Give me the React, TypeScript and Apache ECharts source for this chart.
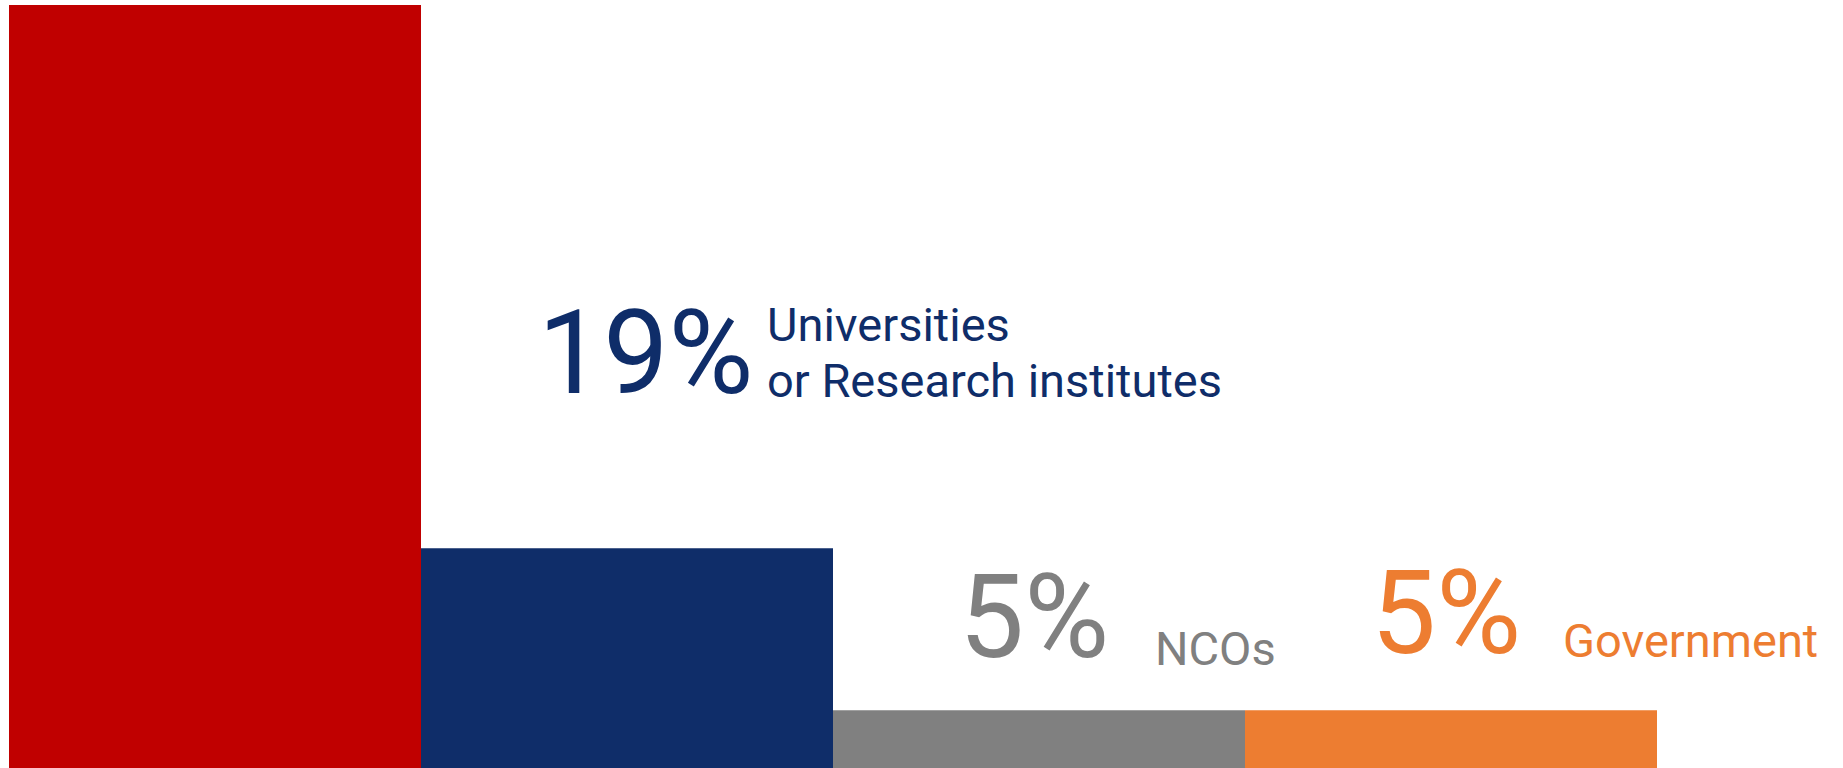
import React, { useEffect, useRef } from "react";
import * as echarts from "echarts";

const categories = ["", "Universities\nor Research institutes", "NCOs", "Government"];
const values = [66, 19, 5, 5];
const barColors = ["#C00000", "#0F2D69", "#808080", "#ED7D31"];
const textColors = ["#C00000", "#0F2D69", "#808080", "#ED7D31"];

// label layout relative to bar top-centre: [numberDx, numberBaselineDy, nameDx, nameBaselineDy]
const labelLayout = [
  [0, 0, 0, 0],
  [-89, -150, 140, -151],
  [-80, -48, 116, -45],
  [-80, -52, 112, -53],
];

const FONT = "Roboto, 'Open Sans', sans-serif";
const BIG = 116;
const SMALL = 47;
const CENTRAL_BIG = 0.39;
const CENTRAL_SMALL = 0.35;

export default function App() {
  const ref = useRef<HTMLDivElement>(null);
  useEffect(() => {
    const chart = echarts.init(ref.current!, null, { renderer: "svg" });
    chart.setOption({
      animation: false,
      grid: { left: 9, right: 186, top: 5, bottom: 0 },
      xAxis: { type: "category", data: categories, show: false },
      yAxis: { type: "value", min: 0, max: 66, show: false },
      series: [
        {
          type: "bar",
          barCategoryGap: "0%",
          data: values.map((v, i) => ({ value: v, itemStyle: { color: barColors[i] } })),
        },
      ],
    });
    const elements: any[] = [];
    values.forEach((v, i) => {
      if (!categories[i]) return;
      const [px, py] = chart.convertToPixel({ seriesIndex: 0 }, [i, v]) as number[];
      const [ndx, ndy, tdx, tdy] = labelLayout[i];
      elements.push({
        type: "text",
        x: px + ndx,
        y: py + ndy - CENTRAL_BIG * BIG,
        style: {
          text: `${v}%`,
          font: `${BIG}px ${FONT}`,
          fill: textColors[i],
          align: "left",
          verticalAlign: "middle",
        },
      });
      const lines = categories[i].split("\n");
      lines.forEach((line, k) => {
        const baseline = py + tdy - (lines.length - 1 - k) * 56;
        elements.push({
          type: "text",
          x: px + tdx,
          y: baseline - CENTRAL_SMALL * SMALL,
          style: {
            text: line,
            font: `${SMALL}px ${FONT}`,
            fill: textColors[i],
            align: "left",
            verticalAlign: "middle",
          },
        });
      });
    });
    chart.setOption({ graphic: { elements } });
    return () => chart.dispose();
  }, []);
  return (
    <div
      ref={ref}
      style={{ position: "fixed", left: 0, top: 0, width: 1843, height: 768, background: "#fff" }}
    />
  );
}
